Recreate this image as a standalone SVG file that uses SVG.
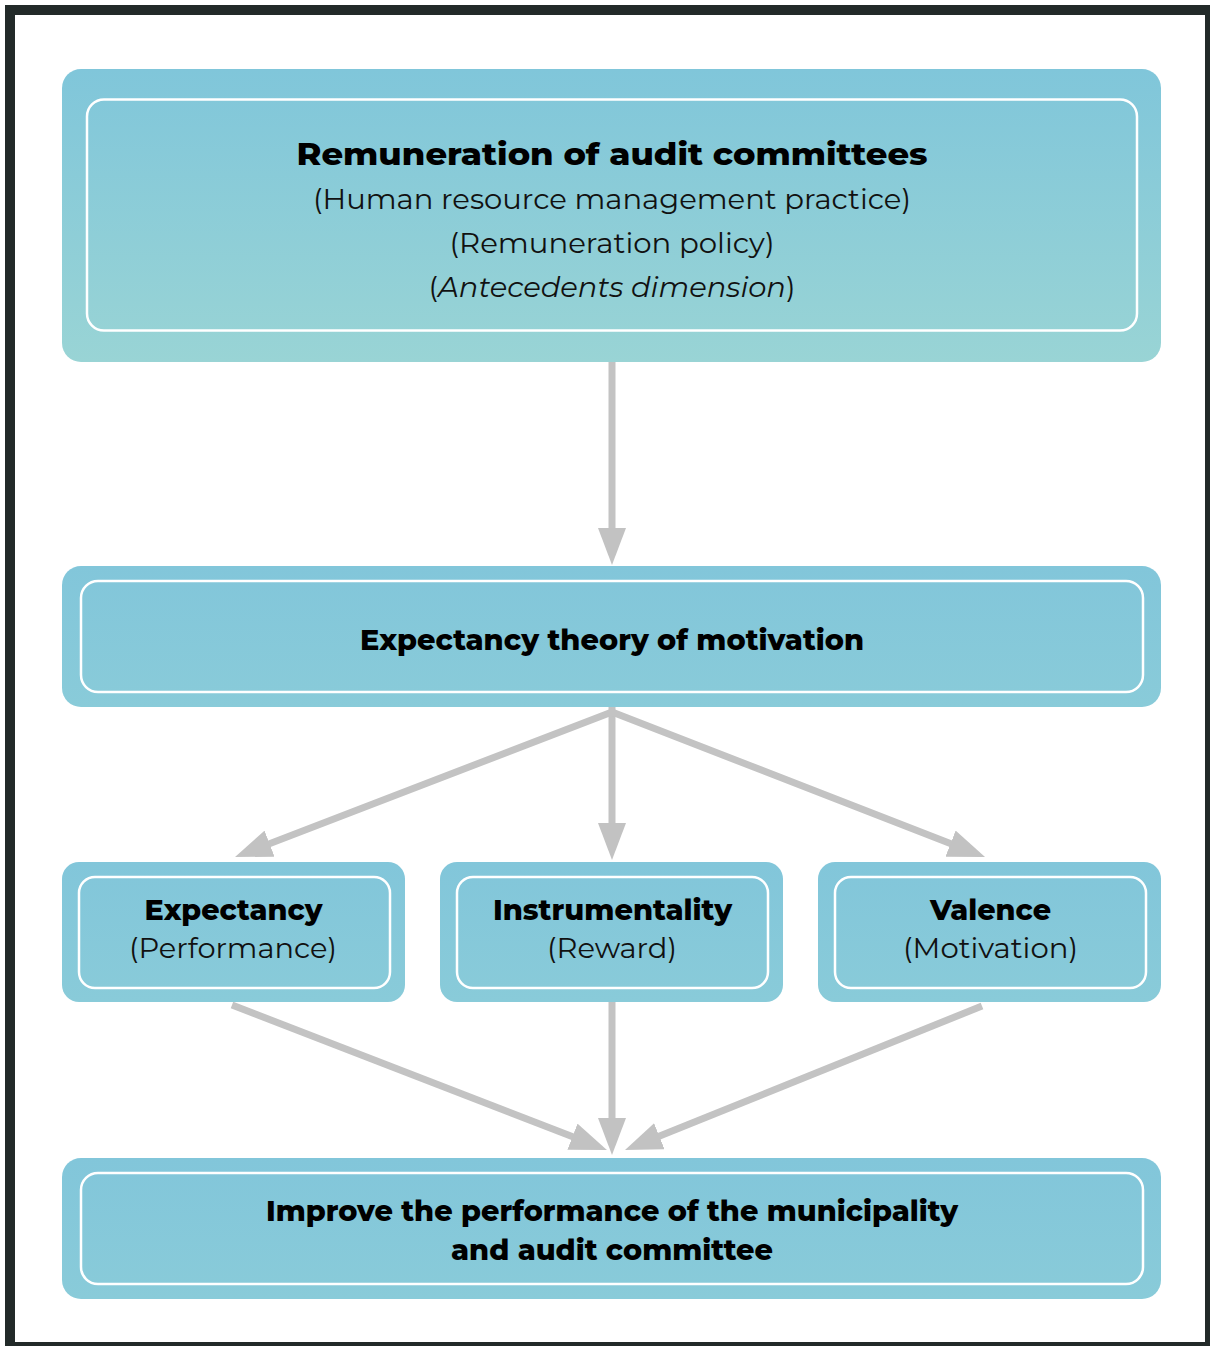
<svg xmlns="http://www.w3.org/2000/svg" width="1210" height="1346" viewBox="0 0 1210 1346">
  <defs>
    <linearGradient id="topFill" x1="0" y1="0" x2="0" y2="1">
      <stop offset="0" stop-color="#80c6da"/>
      <stop offset="1" stop-color="#99d4d5"/>
    </linearGradient>
    <linearGradient id="boxFill" x1="0" y1="0" x2="0" y2="1">
      <stop offset="0" stop-color="#82c6da"/>
      <stop offset="1" stop-color="#89cbd9"/>
    </linearGradient>
    <marker id="head" viewBox="0 0 37 28" refX="17" refY="14" markerWidth="37" markerHeight="28" markerUnits="userSpaceOnUse" orient="auto">
      <path d="M0,0 L37,14 L0,28 Z" fill="#c2c2c2"/>
    </marker>
  </defs>
  <style>
    .outer { stroke: none; }
    .inner { fill: none; stroke: #ffffff; stroke-width: 2.5; }
    .title { font-family: "Montserrat", "Inter", "Liberation Sans", sans-serif; font-weight: 800; fill: #000000; text-anchor: middle; }
    .sub { font-family: "Montserrat", "Inter", "Liberation Sans", sans-serif; font-weight: 400; fill: #111111; text-anchor: middle; }
    .conn { stroke: #c3c3c3; stroke-width: 7; fill: none; }
  </style>

  <!-- page frame -->
  <rect x="0" y="0" width="1210" height="1346" fill="#ffffff"/>
  <rect x="10" y="10" width="1200" height="1337" fill="none" stroke="#222a29" stroke-width="10"/>

  <!-- connectors -->
  <g id="connectors">
    <line class="conn" x1="612" y1="362" x2="612" y2="545" marker-end="url(#head)"/>
    <line class="conn" x1="612" y1="712" x2="253.7" y2="849.8" stroke-linecap="round" marker-end="url(#head)"/>
    <line class="conn" x1="612" y1="707" x2="612" y2="840" marker-end="url(#head)"/>
    <line class="conn" x1="612" y1="712" x2="966.4" y2="849.75" stroke-linecap="round" marker-end="url(#head)"/>
    <line class="conn" x1="232" y1="1005" x2="588.3" y2="1142.8" marker-end="url(#head)"/>
    <line class="conn" x1="612" y1="1002" x2="612" y2="1135" marker-end="url(#head)"/>
    <line class="conn" x1="982" y1="1006" x2="643.55" y2="1142.5" marker-end="url(#head)"/>
  </g>

  <!-- remuneration node -->
  <g id="node-remuneration">
    <rect class="outer" x="62" y="69" width="1099" height="293" rx="19" fill="url(#topFill)"/>
    <rect class="inner" x="87" y="99.5" width="1050" height="231" rx="17"/>
    <text class="title" x="612" y="165" font-size="31" textLength="631" lengthAdjust="spacingAndGlyphs">Remuneration of audit committees</text>
    <text class="sub" x="612" y="209" font-size="28" textLength="598" lengthAdjust="spacingAndGlyphs">(Human resource management practice)</text>
    <text class="sub" x="612" y="253" font-size="28" textLength="325" lengthAdjust="spacingAndGlyphs">(Remuneration policy)</text>
    <text class="sub" x="612" y="297" font-size="28" textLength="367" lengthAdjust="spacingAndGlyphs">(<tspan font-style="italic">Antecedents dimension</tspan>)</text>
  </g>

  <!-- expectancy theory node -->
  <g id="node-theory">
    <rect class="outer" x="62" y="566" width="1099" height="141" rx="19" fill="url(#boxFill)"/>
    <rect class="inner" x="81" y="581" width="1062" height="111" rx="17"/>
    <text class="title" x="612" y="650" font-size="28" textLength="504" lengthAdjust="spacingAndGlyphs">Expectancy theory of motivation</text>
  </g>

  <!-- expectancy node -->
  <g id="node-expectancy">
    <rect class="outer" x="62" y="862" width="343" height="140" rx="17" fill="url(#boxFill)"/>
    <rect class="inner" x="79" y="877" width="311" height="111" rx="16"/>
    <text class="title" x="233.5" y="920" font-size="29" textLength="178" lengthAdjust="spacingAndGlyphs">Expectancy</text>
    <text class="sub" x="233" y="958" font-size="28" textLength="208" lengthAdjust="spacingAndGlyphs">(Performance)</text>
  </g>

  <!-- instrumentality node -->
  <g id="node-instrumentality">
    <rect class="outer" x="440" y="862" width="343" height="140" rx="17" fill="url(#boxFill)"/>
    <rect class="inner" x="457" y="877" width="311" height="111" rx="16"/>
    <text class="title" x="612.5" y="920" font-size="29" textLength="239" lengthAdjust="spacingAndGlyphs">Instrumentality</text>
    <text class="sub" x="612" y="958" font-size="28" textLength="130" lengthAdjust="spacingAndGlyphs">(Reward)</text>
  </g>

  <!-- valence node -->
  <g id="node-valence">
    <rect class="outer" x="818" y="862" width="343" height="140" rx="17" fill="url(#boxFill)"/>
    <rect class="inner" x="835" y="877" width="311" height="111" rx="16"/>
    <text class="title" x="990.5" y="920" font-size="29" textLength="121" lengthAdjust="spacingAndGlyphs">Valence</text>
    <text class="sub" x="990.5" y="958" font-size="28" textLength="175" lengthAdjust="spacingAndGlyphs">(Motivation)</text>
  </g>

  <!-- outcome node -->
  <g id="node-outcome">
    <rect class="outer" x="62" y="1158" width="1099" height="141" rx="19" fill="url(#boxFill)"/>
    <rect class="inner" x="81" y="1173" width="1062" height="111" rx="17"/>
    <text class="title" x="612" y="1221" font-size="28" textLength="692" lengthAdjust="spacingAndGlyphs">Improve the performance of the municipality</text>
    <text class="title" x="612" y="1260" font-size="28" textLength="322" lengthAdjust="spacingAndGlyphs">and audit committee</text>
  </g>
</svg>
